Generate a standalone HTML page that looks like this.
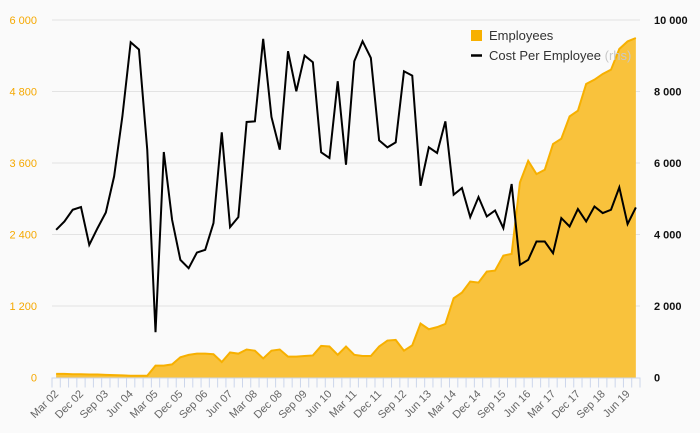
<!DOCTYPE html>
<html><head><meta charset="utf-8"><style>
body{margin:0;background:#fafafa;}
svg{display:block;font-family:"Liberation Sans",sans-serif;}
</style></head><body>
<svg id="chart" width="700" height="433" xmlns="http://www.w3.org/2000/svg">
<rect width="700" height="433" fill="#fafafa"/>
<g id="grid"></g><g id="area"></g><g id="line"></g><g id="axes"></g>
<g>
<rect x="471" y="30" width="11" height="11" fill="#f7b000"/>
<text x="489" y="40" font-size="13" fill="#333">Employees</text>
<line x1="471" y1="55.5" x2="482" y2="55.5" stroke="#000" stroke-width="2.5"/>
<text x="489" y="60" font-size="13" fill="#333">Cost Per Employee <tspan fill="#c8c8c8">(rhs)</tspan></text>
</g>
</svg>
<script>
const quarters = ["Mar","Jun","Sep","Dec"];
const startYear = 2;
const employees = [60,60,55,55,50,50,45,40,35,30,30,30,200,200,220,340,380,400,400,390,260,420,400,470,450,320,450,470,350,350,360,370,530,520,380,520,380,360,360,520,620,630,450,540,905,810,845,900,1330,1425,1610,1593,1777,1794,2046,2075,3273,3637,3414,3486,3918,4007,4382,4477,4926,4998,5094,5166,5514,5641,5698];
const costPerEmployee = [4132,4364,4692,4767,3711,4179,4616,5625,7306,9378,9174,6373,1266,6308,4412,3291,3058,3496,3571,4319,6858,4207,4487,7148,7166,9473,7288,6373,9126,8006,9006,8818,6298,6140,8286,5952,8846,9406,8940,6634,6438,6578,8566,8445,5364,6438,6280,7166,5112,5300,4487,5048,4504,4672,4179,5412,3151,3291,3804,3804,3478,4459,4224,4711,4364,4784,4599,4692,5317,4291,4756];
const leftTicks = [0,1200,2400,3600,4800,6000];
const leftTickLabels = ["0","1 200","2 400","3 600","4 800","6 000"];
const rightTicks = [0,2000,4000,6000,8000,10000];
const rightTickLabels = ["0","2 000","4 000","6 000","8 000","10 000"];

const NS="http://www.w3.org/2000/svg";
const X0=52,X1=640,Y0=377.5,Y1=20;
const n=employees.length, band=(X1-X0)/n;
const xs=i=>X0+band*(i+0.5);
const yL=v=>Y0-(v/6000)*(Y0-Y1);
const yR=v=>Y0-(v/10000)*(Y0-Y1);
function mk(tag,attrs,parent){const e=document.createElementNS(NS,tag);for(const k in attrs)e.setAttribute(k,attrs[k]);parent.appendChild(e);return e;}
const grid=document.getElementById('grid'),axes=document.getElementById('axes');
leftTicks.forEach((t,i)=>{
  if(t>0){const g=mk('line',{x1:X0,x2:X1,y1:yL(t),y2:yL(t),stroke:'#e3e3e3','stroke-width':1},grid);
  
  }
  const tx=mk('text',{x:37,y:yL(t)+4,'text-anchor':'end','font-size':11,fill:'#f5a800'},axes);
  tx.textContent=leftTickLabels[i];
  
  
});
rightTicks.forEach((t,i)=>{
  const tx=mk('text',{x:654,y:yR(t)+4,'font-size':11,'font-weight':'bold',fill:'#111'},axes);
  tx.textContent=rightTickLabels[i];
  
  
});
// area
let d='M'+xs(0)+','+Y0;
employees.forEach((v,i)=>{d+=' L'+xs(i).toFixed(2)+','+yL(v).toFixed(2);});
d+=' L'+xs(n-1)+','+Y0+' Z';
const ar=mk('path',{d:d,fill:'#f9c23c'},document.getElementById('area'));


let d2='';employees.forEach((v,i)=>{d2+=(i?' L':'M')+xs(i).toFixed(2)+','+yL(v).toFixed(2);});
const al=mk('path',{d:d2,fill:'none',stroke:'#f7b000','stroke-width':2},document.getElementById('area'));


let d3='';costPerEmployee.forEach((v,i)=>{d3+=(i?' L':'M')+xs(i).toFixed(2)+','+yR(v).toFixed(2);});
const ln=mk('path',{d:d3,fill:'none',stroke:'#000','stroke-width':2,'stroke-linejoin':'miter'},document.getElementById('line'));


// x axis
const ax=mk('line',{x1:X0,x2:X1,y1:Y0+0.5,y2:Y0+0.5,stroke:'#ccd6eb'},axes);


for(let i=0;i<=n;i++){
  const x=X0+band*i;
  const tk=mk('line',{x1:x,x2:x,y1:Y0,y2:Y0+10,stroke:'#ccd6eb'},axes);
  
  
}
for(let i=0;i<n;i+=3){
  const q=quarters[i%4], yr=startYear+Math.floor(i/4);
  const lbl=q+' '+String(yr).padStart(2,'0');
  const x=xs(i)+3,y=Y0+17;
  const tx=mk('text',{x:x,y:y,'text-anchor':'end','font-size':11,fill:'#666',transform:'rotate(-45 '+x+' '+y+')'},axes);
  tx.textContent=lbl;
  
  
}
</script>
</body></html>
